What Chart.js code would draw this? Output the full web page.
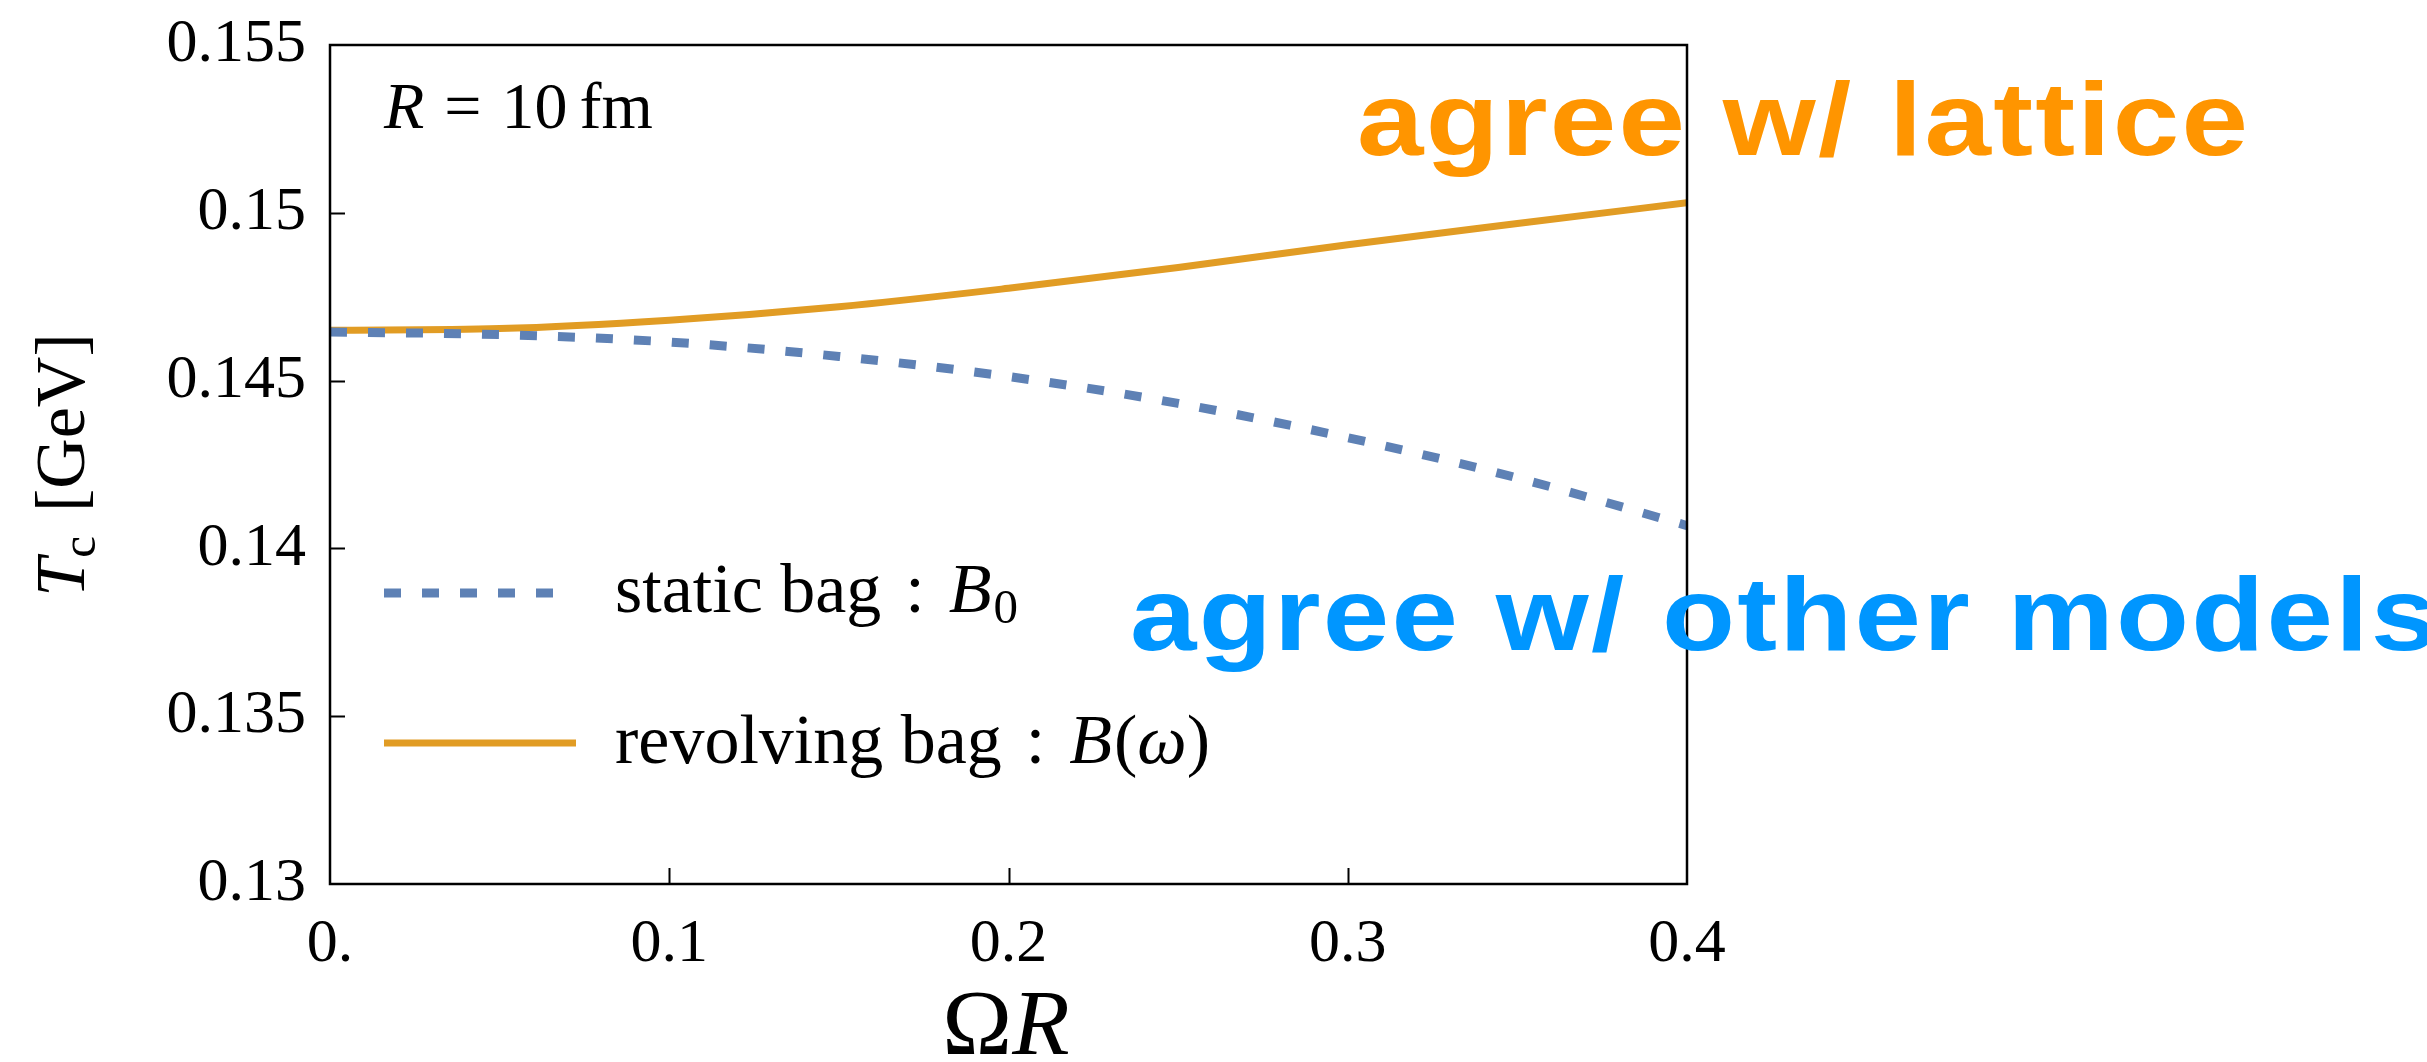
<!DOCTYPE html>
<html>
<head>
<meta charset="utf-8">
<script src="https://cdn.jsdelivr.net/npm/chart.js@4.4.0/dist/chart.umd.min.js"></script>
<style>
  html, body { margin: 0; padding: 0; background: #fff; }
  canvas { display: block; }
</style>
</head>
<body>
<canvas id="tcChart" width="2427" height="1062"></canvas>
<script>
// values
const omegaR = [0, 0.05, 0.1, 0.15, 0.2, 0.25, 0.3, 0.35, 0.4];
const staticBag = [0.14645, 0.14637, 0.14615, 0.14572, 0.14512, 0.14432, 0.14330, 0.14210, 0.14068];
const revolvingBag = [0.14650, 0.14655, 0.14680, 0.14720, 0.14775, 0.14837, 0.14905, 0.14968, 0.15030];

const xTickValues = [0, 0.1, 0.2, 0.3, 0.4];
const xTickLabels = ['0.', '0.1', '0.2', '0.3', '0.4'];
const yTickValues = [0.13, 0.135, 0.14, 0.145, 0.15, 0.155];
const yTickLabels = ['0.13', '0.135', '0.14', '0.145', '0.15', '0.155'];

const SERIF = '"Liberation Serif", "DejaVu Serif", serif';
const SANS = '"Liberation Sans", Arial, sans-serif';
const BLUE = '#5E81B5';
const ORANGE = '#E19C24';

function toPoints(xs, ys) {
    return xs.map((x, i) => ({ x: x, y: ys[i] }));
}

function drawRuns(ctx, x, y, runs) {
    runs.forEach(run => {
        ctx.font = run.font;
        x += run.gap || 0;
        ctx.fillText(run.text, x, y + (run.dy || 0));
        x += ctx.measureText(run.text).width;
    });
    return x;
}

function runsWidth(ctx, runs) {
    let w = 0;
    runs.forEach(run => {
        ctx.font = run.font;
        w += (run.gap || 0) + ctx.measureText(run.text).width;
    });
    return w;
}

function noScalePadding(scale) {
    scale.paddingTop = 0;
    scale.paddingBottom = 0;
    scale.paddingLeft = 0;
    scale.paddingRight = 0;
}

const decorPlugin = {
    id: 'decor',
    afterDatasetsDraw(chart) {
        const ctx = chart.ctx;
        const area = chart.chartArea;
        const xs = chart.scales.x;
        const ys = chart.scales.y;
        ctx.save();
        ctx.strokeStyle = '#000';
        ctx.lineWidth = 2.5;
        ctx.strokeRect(area.left, area.top, area.right - area.left, area.bottom - area.top);
        // inward ticks
        ctx.lineWidth = 2;
        ctx.beginPath();
        yTickValues.slice(1, -1).forEach(v => {
            const py = Math.round(ys.getPixelForValue(v)) + 0.5;
            ctx.moveTo(area.left, py);
            ctx.lineTo(area.left + 15, py);
        });
        xTickValues.slice(1, -1).forEach(v => {
            const px = Math.round(xs.getPixelForValue(v)) + 0.5;
            ctx.moveTo(px, area.bottom);
            ctx.lineTo(px, area.bottom - 16);
        });
        ctx.stroke();
        ctx.restore();
    },
    afterDraw(chart) {
        const ctx = chart.ctx;
        const sets = chart.data.datasets;
        ctx.save();
        ctx.fillStyle = '#000';
        ctx.textBaseline = 'alphabetic';
        ctx.textAlign = 'left';

        // legend
        const rows = [
            { ds: sets[0], y: 593, x0: 384, x1: 560, base: 612,
              runs: [
                { text: 'static bag', font: '70px ' + SERIF },
                { text: ':', font: '70px ' + SERIF, gap: 24 },
                { text: 'B', font: 'italic 70px ' + SERIF, gap: 24 },
                { text: '0', font: '49px ' + SERIF, dy: 11, gap: 2 }
              ] },
            { ds: sets[1], y: 743, x0: 384, x1: 576, base: 763,
              runs: [
                { text: 'revolving bag', font: '70px ' + SERIF },
                { text: ':', font: '70px ' + SERIF, gap: 24 },
                { text: 'B', font: 'italic 70px ' + SERIF, gap: 24 },
                { text: '(', font: '70px ' + SERIF, gap: 2 },
                { text: 'ω', font: 'italic 70px ' + SERIF },
                { text: ')', font: '70px ' + SERIF }
              ] }
        ];
        rows.forEach(row => {
            ctx.save();
            ctx.strokeStyle = row.ds.borderColor;
            ctx.lineWidth = row.ds.borderWidth;
            ctx.setLineDash(row.ds.borderDash || []);
            ctx.beginPath();
            ctx.moveTo(row.x0, row.y);
            ctx.lineTo(row.x1, row.y);
            ctx.stroke();
            ctx.restore();
            drawRuns(ctx, 615, row.base, row.runs);
        });

        // R = 10 fm
        drawRuns(ctx, 384, 128, [
            { text: 'R', font: 'italic 66px ' + SERIF },
            { text: '=', font: '66px ' + SERIF, gap: 20 },
            { text: '10', font: '66px ' + SERIF, gap: 20 },
            { text: 'fm', font: '66px ' + SERIF, gap: 12 }
        ]);

        // y title
        const yRuns = [
            { text: 'T', font: 'italic 70px ' + SERIF },
            { text: 'c', font: '49px ' + SERIF, dy: 11 },
            { text: '[GeV]', font: '70px ' + SERIF, gap: 24 }
        ];
        ctx.save();
        ctx.translate(84, 465);
        ctx.rotate(-Math.PI / 2);
        drawRuns(ctx, -runsWidth(ctx, yRuns) / 2, 0, yRuns);
        ctx.restore();

        // x title
        const xRuns = [
            { text: 'Ω', font: '94px ' + SERIF },
            { text: 'R', font: 'italic 94px ' + SERIF }
        ];
        drawRuns(ctx, 1006 - runsWidth(ctx, xRuns) / 2, 1054, xRuns);

        // annotations
        const annFont = 'bold 103px ' + SANS;
        const sx = 1.16;
        ctx.font = annFont;
        const orangeText = 'agree w/ lattice';
        const natural = ctx.measureText(orangeText).width * sx;
        const spacing = Math.max(0, (891 - natural) / (orangeText.length - 1) / sx);
        ctx.letterSpacing = spacing.toFixed(2) + 'px';
        ctx.save();
        ctx.fillStyle = '#FF9500';
        ctx.translate(1357, 155);
        ctx.scale(sx, 1);
        ctx.fillText(orangeText, 0, 0);
        ctx.restore();
        ctx.save();
        ctx.fillStyle = '#0096FF';
        ctx.translate(1130, 650);
        ctx.scale(sx, 1);
        ctx.fillText('agree w/ other models', 0, 0);
        ctx.restore();

        ctx.restore();
    }
};

const ctx = document.getElementById('tcChart').getContext('2d');
new Chart(ctx, {
    type: 'line',
    data: {
        datasets: [
            {
                label: 'static bag : B0',
                data: toPoints(omegaR, staticBag),
                borderColor: BLUE,
                borderWidth: 9,
                borderDash: [17, 21],
                pointRadius: 0,
                cubicInterpolationMode: 'monotone',
                fill: false
            },
            {
                label: 'revolving bag : B(ω)',
                data: toPoints(omegaR, revolvingBag),
                borderColor: ORANGE,
                borderWidth: 7,
                pointRadius: 0,
                cubicInterpolationMode: 'monotone',
                fill: false
            }
        ]
    },
    options: {
        responsive: false,
        animation: false,
        layout: { padding: { top: 45, right: 740, bottom: 0, left: 0 } },
        plugins: {
            legend: { display: false },
            tooltip: { enabled: false }
        },
        scales: {
            x: {
                type: 'linear',
                min: 0,
                max: 0.4,
                grid: { display: false, drawTicks: false },
                border: { display: false },
                afterBuildTicks: scale => { scale.ticks = xTickValues.map(v => ({ value: v })); },
                afterFit: scale => { scale.height = 178; noScalePadding(scale); },
                ticks: {
                    color: '#000',
                    padding: 24,
                    maxRotation: 0,
                    font: { family: SERIF, size: 62 },
                    callback: (v, i) => xTickLabels[i]
                }
            },
            y: {
                type: 'linear',
                min: 0.13,
                max: 0.155,
                grid: { display: false, drawTicks: false },
                border: { display: false },
                afterBuildTicks: scale => { scale.ticks = yTickValues.map(v => ({ value: v })); },
                afterFit: scale => { scale.width = 330; noScalePadding(scale); },
                ticks: {
                    color: '#000',
                    padding: 24,
                    font: { family: SERIF, size: 62 },
                    callback: (v, i) => yTickLabels[i]
                }
            }
        }
    },
    plugins: [decorPlugin]
});
</script>
</body>
</html>
